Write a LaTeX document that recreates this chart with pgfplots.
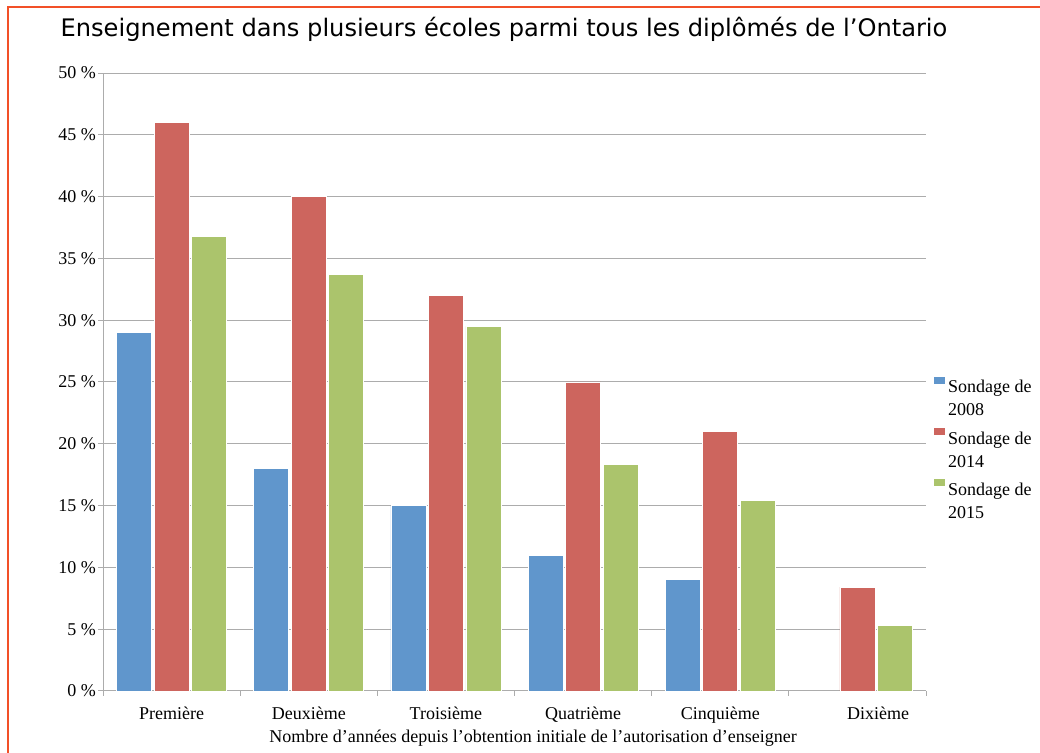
\documentclass[border=0pt]{standalone}
\usepackage{fontspec}
\setmainfont{Liberation Serif}
\newfontfamily\titlefont{DejaVu Sans}
\usepackage{pgfplots}
\pgfplotsset{compat=1.18}
\definecolor{cblue}{RGB}{96,150,204}
\definecolor{cred}{RGB}{205,101,94}
\definecolor{cgreen}{RGB}{171,196,108}
\definecolor{borderc}{RGB}{242,80,40}
\definecolor{gridc}{RGB}{172,172,172}
\newcommand{\lab}[1]{\begin{tabular}[t]{@{}l@{}}#1\end{tabular}}
\begin{document}
\begin{tikzpicture}
\path[use as bounding box] (0,0) rectangle (780pt,564.75pt);
\draw[borderc, line width=1.2pt] (6.2pt,-2pt) -- (6.2pt,559.7pt) -- (782pt,559.7pt);
\node[font=\titlefont\fontsize{18.1}{21}\selectfont, anchor=base] at (378pt,537pt) {Enseignement dans plusieurs écoles parmi tous les diplômés de l’Ontario};
\begin{axis}[
  at={(77.25pt,46.5pt)}, anchor=south west,
  scale only axis, width=617.25pt, height=463.5pt,
  ymin=0, ymax=50, xmin=-0.5, xmax=5.5,
  ybar=1.875pt, bar width=26.25pt,
  xtick={0,...,5},
  xticklabels={Première,Deuxième,Troisième,Quatrième,Cinquième,{\raisebox{-2.25pt}{\hspace*{31pt}Dixième}}},
  xticklabel style={yshift=-4.5pt},
  minor xtick={-0.5,0.5,...,5.5},
  ytick={0,5,...,50},
  yticklabels={0 \%,5 \%,10 \%,15 \%,20 \%,25 \%,30 \%,35 \%,40 \%,45 \%,50 \%},
  yticklabel style={xshift=2pt},
  ymajorgrids, grid style={gridc, line width=0.75pt},
  axis x line*=bottom, axis y line*=left,
  axis line style={gridc, line width=0.75pt, -},
  tick align=outside, major tick length=3.75pt, minor tick length=3.75pt,
  every major x tick/.append style={draw=none},
  every minor x tick/.append style={gridc, line width=0.75pt},
  every major y tick/.append style={gridc, line width=0.75pt},
  tick label style={font=\fontsize{13.5}{16}\selectfont},
  xlabel={Nombre d’années depuis l’obtention initiale de l’autorisation d’enseigner},
  xlabel style={font=\fontsize{13.5}{16}\selectfont, at={(axis description cs:0.5225,0)}, anchor=base, yshift=-39pt},
  legend style={draw=none, at={(1.0085,0.513)}, anchor=north west, font=\fontsize{13.5}{17.25}\selectfont, row sep=21pt, inner sep=0pt,
    /tikz/every even column/.append style={column sep=0pt}},
  legend cell align=left,
  legend image code/.code={\fill (0pt,1.5pt) rectangle (8.5pt,7.5pt);},
]
\addplot[fill=cblue, draw=white, line width=0.6pt] coordinates {(0,29.0) (1,18.0) (2,15.0) (3,11.0) (4,9.0)};
\addlegendentry{\lab{Sondage de\\2008}}
\addplot[fill=cred, draw=white, line width=0.6pt] coordinates {(0,46.0) (1,40.0) (2,32.0) (3,25.0) (4,21.0) (5,8.4)};
\addlegendentry{\lab{Sondage de\\2014}}
\addplot[fill=cgreen, draw=white, line width=0.6pt] coordinates {(0,36.8) (1,33.7) (2,29.5) (3,18.3) (4,15.4) (5,5.3)};
\addlegendentry{\lab{Sondage de\\2015}}
\end{axis}
\end{tikzpicture}
\end{document}
